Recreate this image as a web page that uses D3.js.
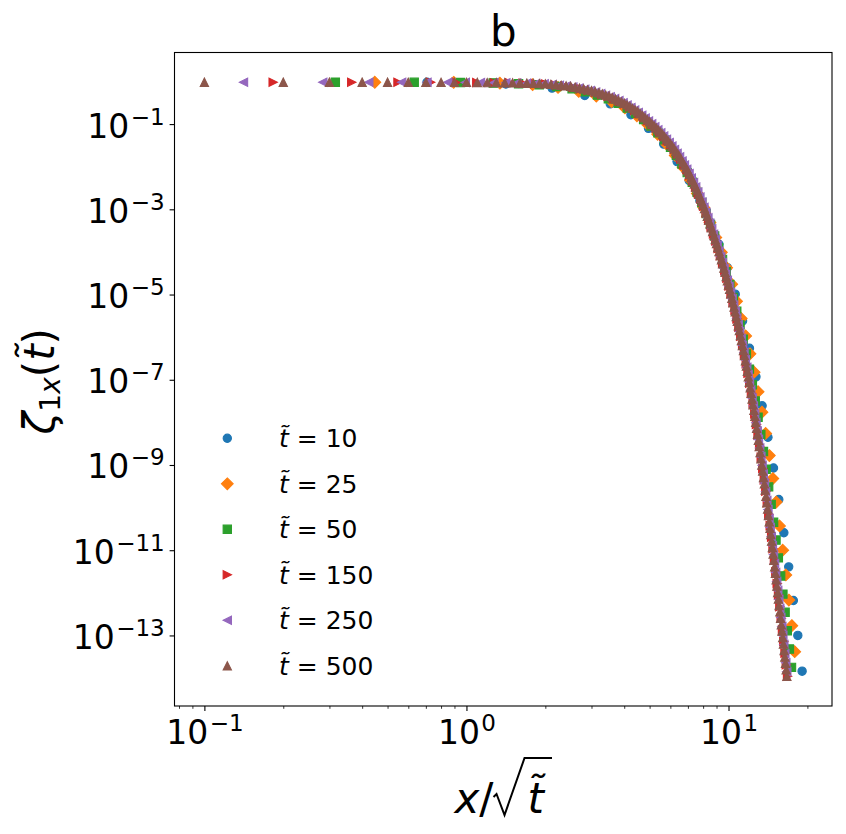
<!DOCTYPE html>
<html>
<head>
<meta charset="utf-8">
<script src="https://cdn.jsdelivr.net/npm/d3@7"></script>
<style>
  body { margin: 0; background: #fff; }
  svg { display: block; }
  text { font-family: "DejaVu Sans", sans-serif; fill: #000; }
</style>
</head>
<body>
<script>
// series labels (t tilde) and colours
var tildeT = [10, 25, 50, 150, 250, 500];
var colors = ["#1f77b4", "#ff7f0e", "#2ca02c", "#d62728", "#9467bd", "#8c564b"];

// x / sqrt(t) and zeta values, one pair of arrays per series
var u10 = [0.707,1.414,2.121,2.828,3.536,4.243,4.950,5.657,6.364,7.071,7.778,8.485,9.192,9.899,
  10.607,11.314,12.021,12.728,13.435,14.142,14.849,15.556,16.263,16.971,17.678,18.385,19.092];
var z10 = [0.955,0.871,0.700,0.468,0.299,0.166,0.0794,0.0339,0.0132,0.00479,0.00162,5.13e-4,1.51e-4,4.27e-5,
  1.02e-5,2.40e-6,5.50e-7,1.17e-7,2.45e-8,4.47e-9,8.51e-10,1.55e-10,2.57e-11,4.07e-12,6.61e-13,1.00e-13,1.45e-14];

var u25 = [0.447,0.894,1.342,1.789,2.236,2.683,3.130,3.578,4.025,4.472,
  4.919,5.367,5.814,6.261,6.708,7.155,7.603,8.050,8.497,8.944,
  9.391,9.839,10.286,10.733,11.180,11.628,12.075,12.522,12.969,13.416,
  13.864,14.311,14.758,15.205,15.652,16.100,16.547,16.994,17.441,17.889];
var z25 = [0.959,0.953,0.910,0.841,0.724,0.583,0.454,0.337,0.239,0.157,
  0.0968,0.0577,0.0334,0.0184,0.00977,0.00490,0.00234,0.00110,4.90e-4,2.19e-4,
  9.77e-5,4.27e-5,1.74e-5,6.92e-6,2.75e-6,1.07e-6,4.07e-7,1.51e-7,5.25e-8,1.74e-8,
  5.50e-9,1.66e-9,4.79e-10,1.35e-10,3.72e-11,1.00e-11,2.63e-12,6.76e-13,1.70e-13,4.17e-14];

var u50 = [0.316,0.632,0.949,1.265,1.581,1.897,2.214,2.530,2.846,3.162,
  3.479,3.795,4.111,4.427,4.743,5.060,5.376,5.692,6.008,6.325,
  6.641,6.957,7.273,7.589,7.906,8.222,8.538,8.854,9.171,9.487,
  9.803,10.119,10.436,10.752,11.068,11.384,11.700,12.017,12.333,12.649,
  12.965,13.282,13.598,13.914,14.230,14.546,14.863,15.179,15.495,15.811,
  16.128,16.444,16.760,17.076,17.393];
var z50 = [0.961,0.957,0.944,0.920,0.887,0.836,0.762,0.676,0.570,0.479,
  0.392,0.309,0.238,0.178,0.128,0.0899,0.0627,0.0426,0.0287,0.0184,
  0.0116,0.00726,0.00432,0.00252,0.00144,8.00e-4,4.40e-4,2.37e-4,1.26e-4,6.62e-5,
  3.42e-5,1.73e-5,8.51e-6,4.08e-6,1.94e-6,8.95e-7,4.06e-7,1.78e-7,7.62e-8,3.18e-8,
  1.32e-8,5.24e-9,2.07e-9,7.96e-10,3.06e-10,1.19e-10,4.53e-11,1.73e-11,6.61e-12,2.49e-12,
  9.31e-13,3.50e-13,1.29e-13,4.81e-14,1.78e-14];

var u150 = [0.183,0.365,0.548,0.730,0.913,1.095,1.278,1.461,1.643,1.826,
  2.008,2.191,2.373,2.556,2.739,2.921,3.104,3.286,3.469,3.651,
  3.834,4.017,4.199,4.382,4.564,4.747,4.930,5.112,5.295,5.477,
  5.660,5.842,6.025,6.208,6.390,6.573,6.755,6.938,7.120,7.303,
  7.486,7.668,7.851,8.033,8.216,8.398,8.581,8.764,8.946,9.129,
  9.311,9.494,9.676,9.859,10.042,10.224,10.407,10.589,10.772,10.954,
  11.137,11.320,11.502,11.685,11.867,12.050,12.232,12.415,12.598,12.780,
  12.963,13.145,13.328,13.510,13.693,13.876,14.058,14.241,14.423,14.606,
  14.788,14.971,15.154,15.336,15.519,15.701,15.884,16.066,16.249,16.432,
  16.614,16.797];
var z150 = [0.961,0.960,0.958,0.955,0.952,0.946,0.936,0.928,0.911,0.891,
  0.873,0.827,0.785,0.738,0.676,0.621,0.562,0.505,0.452,0.395,
  0.344,0.299,0.252,0.213,0.178,0.146,0.120,0.0979,0.0796,0.0649,
  0.0518,0.0414,0.0329,0.0255,0.0198,0.0152,0.0114,0.00857,0.00632,0.00460,
  0.00335,0.00238,0.00174,0.00119,8.17e-4,5.64e-4,3.86e-4,2.64e-4,1.80e-4,1.21e-4,
  8.13e-5,5.46e-5,3.62e-5,2.40e-5,1.58e-5,1.03e-5,6.65e-6,4.26e-6,2.69e-6,1.71e-6,
  1.05e-6,6.47e-7,3.98e-7,2.37e-7,1.42e-7,8.34e-8,4.82e-8,2.79e-8,1.58e-8,8.89e-9,
  4.99e-9,2.75e-9,1.51e-9,8.28e-10,4.48e-10,2.42e-10,1.31e-10,7.03e-11,3.78e-11,2.03e-11,
  1.09e-11,5.81e-12,3.10e-12,1.66e-12,8.85e-13,4.73e-13,2.53e-13,1.35e-13,7.21e-14,3.85e-14,
  2.06e-14,1.10e-14];

var u250 = [0.141,0.283,0.424,0.566,0.707,0.849,0.990,1.131,1.273,1.414,
  1.556,1.697,1.838,1.980,2.121,2.263,2.404,2.546,2.687,2.828,
  2.970,3.111,3.253,3.394,3.536,3.677,3.818,3.960,4.101,4.243,
  4.384,4.525,4.667,4.808,4.950,5.091,5.233,5.374,5.515,5.657,
  5.798,5.940,6.081,6.223,6.364,6.505,6.647,6.788,6.930,7.071,
  7.212,7.354,7.495,7.637,7.778,7.920,8.061,8.202,8.344,8.485,
  8.627,8.768,8.910,9.051,9.192,9.334,9.475,9.617,9.758,9.899,
  10.041,10.182,10.324,10.465,10.607,10.748,10.889,11.031,11.172,11.314,
  11.455,11.597,11.738,11.879,12.021,12.162,12.304,12.445,12.586,12.728,
  12.869,13.011,13.152,13.294,13.435,13.576,13.718,13.859,14.001,14.142,
  14.284,14.425,14.566,14.708,14.849,14.991,15.132,15.274,15.415,15.556,
  15.698,15.839,15.981,16.122,16.263,16.405,16.546,16.688];
var z250 = [0.961,0.960,0.960,0.958,0.956,0.953,0.951,0.945,0.939,0.931,
  0.921,0.907,0.892,0.879,0.847,0.814,0.782,0.745,0.698,0.653,
  0.611,0.564,0.518,0.476,0.435,0.395,0.355,0.318,0.279,0.244,
  0.214,0.187,0.161,0.138,0.118,0.1012,0.0861,0.0734,0.0625,0.0525,
  0.0441,0.0370,0.0307,0.0252,0.0207,0.0170,0.0136,0.0109,0.00875,0.00693,
  0.00543,0.00424,0.00332,0.00254,0.00194,0.00148,0.00112,8.41e-4,6.31e-4,4.72e-4,
  3.51e-4,2.61e-4,1.94e-4,1.43e-4,1.05e-4,7.67e-5,5.64e-5,4.09e-5,2.97e-5,2.16e-5,
  1.56e-5,1.11e-5,7.96e-6,5.68e-6,3.98e-6,2.79e-6,1.96e-6,1.36e-6,9.35e-7,6.40e-7,
  4.39e-7,2.94e-7,1.97e-7,1.32e-7,8.75e-8,5.71e-8,3.72e-8,2.42e-8,1.56e-8,9.86e-9,
  6.28e-9,3.99e-9,2.51e-9,1.57e-9,9.82e-10,6.14e-10,3.79e-10,2.36e-10,1.46e-10,9.00e-11,
  5.53e-11,3.42e-11,2.10e-11,1.29e-11,7.96e-12,4.88e-12,3.00e-12,1.84e-12,1.13e-12,6.97e-13,
  4.28e-13,2.63e-13,1.61e-13,9.93e-14,6.08e-14,3.72e-14,2.29e-14,1.41e-14];

var u500 = [0.1,0.2,0.3,0.4,0.5,0.6,0.7,0.8,0.9,
  1.0,1.1,1.2,1.3,1.4,1.5,1.6,1.7,1.8,1.9,
  2.0,2.1,2.2,2.3,2.4,2.5,2.6,2.7,2.8,2.9,
  3.0,3.1,3.2,3.3,3.4,3.5,3.6,3.7,3.8,3.9,
  4.0,4.1,4.2,4.3,4.4,4.5,4.6,4.7,4.8,4.9,
  5.0,5.1,5.2,5.3,5.4,5.5,5.6,5.7,5.8,5.9,
  6.0,6.1,6.2,6.3,6.4,6.5,6.6,6.7,6.8,6.9,
  7.0,7.1,7.2,7.3,7.4,7.5,7.6,7.7,7.8,7.9,
  8.0,8.1,8.2,8.3,8.4,8.5,8.6,8.7,8.8,8.9,
  9.0,9.1,9.2,9.3,9.4,9.5,9.6,9.7,9.8,9.9,
  10.0,10.1,10.2,10.3,10.4,10.5,10.6,10.7,10.8,10.9,
  11.0,11.1,11.2,11.3,11.4,11.5,11.6,11.7,11.8,11.9,
  12.0,12.1,12.2,12.3,12.4,12.5,12.6,12.7,12.8,12.9,
  13.0,13.1,13.2,13.3,13.4,13.5,13.6,13.7,13.8,13.9,
  14.0,14.1,14.2,14.3,14.4,14.5,14.6,14.7,14.8,14.9,
  15.0,15.1,15.2,15.3,15.4,15.5,15.6,15.7,15.8,15.9,
  16.0,16.1,16.2,16.3,16.4,16.5,16.6,16.7];
var z500 = [0.961,0.961,0.960,0.960,0.959,0.958,0.956,0.954,0.953,
  0.951,0.946,0.942,0.938,0.933,0.929,0.919,0.909,0.900,0.890,
  0.881,0.857,0.834,0.811,0.789,0.767,0.733,0.700,0.668,0.638,
  0.610,0.574,0.541,0.509,0.480,0.452,0.419,0.388,0.360,0.333,
  0.309,0.282,0.257,0.234,0.214,0.195,0.175,0.157,0.141,0.126,
  0.1135,0.1014,0.0906,0.0809,0.0723,0.0646,0.0570,0.0505,0.0446,0.0394,
  0.0348,0.0303,0.0264,0.0230,0.0200,0.0174,0.0149,0.0127,0.0109,0.00929,
  0.00794,0.00667,0.00560,0.00470,0.00394,0.00331,0.00274,0.00226,0.00187,0.00154,
  0.00127,0.00104,8.45e-4,6.89e-4,5.61e-4,4.57e-4,3.70e-4,2.99e-4,2.42e-4,1.96e-4,
  1.58e-4,1.27e-4,1.02e-4,8.17e-5,6.55e-5,5.25e-5,4.18e-5,3.33e-5,2.65e-5,2.11e-5,
  1.68e-5,1.32e-5,1.04e-5,8.18e-6,6.44e-6,5.07e-6,3.94e-6,3.05e-6,2.37e-6,1.84e-6,
  1.43e-6,1.09e-6,8.34e-7,6.37e-7,4.86e-7,3.72e-7,2.79e-7,2.09e-7,1.57e-7,1.17e-7,
  8.81e-8,6.49e-8,4.78e-8,3.52e-8,2.59e-8,1.91e-8,1.38e-8,1.00e-8,7.24e-9,5.25e-9,
  3.80e-9,2.72e-9,1.95e-9,1.40e-9,1.00e-9,7.16e-10,5.09e-10,3.62e-10,2.58e-10,1.83e-10,
  1.30e-10,9.23e-11,6.53e-11,4.62e-11,3.27e-11,2.32e-11,1.64e-11,1.16e-11,8.17e-12,5.77e-12,
  4.07e-12,2.88e-12,2.03e-12,1.44e-12,1.01e-12,7.16e-13,5.06e-13,3.57e-13,2.52e-13,1.78e-13,
  1.26e-13,8.89e-14,6.28e-14,4.44e-14,3.13e-14,2.21e-14,1.56e-14,1.10e-14];

// ticks
var xMajor = [0.1, 1, 10];
var xExp = ["\u22121", "0", "1"];
var xMinor = [0.08,0.09,0.2,0.3,0.4,0.5,0.6,0.7,0.8,0.9,2,3,4,5,6,7,8,9,20];
var yMajor = [1e-1, 1e-3, 1e-5, 1e-7, 1e-9, 1e-11, 1e-13];
var yExp = ["\u22121", "\u22123", "\u22125", "\u22127", "\u22129", "\u221211", "\u221213"];

// marker shapes, size = marker width in px (like matplotlib markersize)
var mCircle = { draw: function (c, s) { var r = s / 2; c.moveTo(r, 0); c.arc(0, 0, r, 0, 2 * Math.PI); } };
var mDiamond = { draw: function (c, s) { var h = s * 0.7071; c.moveTo(0, -h); c.lineTo(h, 0); c.lineTo(0, h); c.lineTo(-h, 0); c.closePath(); } };
var mSquare = { draw: function (c, s) { var h = s / 2; c.rect(-h, -h, s, s); } };
var mRight = { draw: function (c, s) { var h = s / 2; c.moveTo(h, 0); c.lineTo(-h, -h); c.lineTo(-h, h); c.closePath(); } };
var mLeft = { draw: function (c, s) { var h = s / 2; c.moveTo(-h, 0); c.lineTo(h, -h); c.lineTo(h, h); c.closePath(); } };
var mUp = { draw: function (c, s) { var h = s / 2; c.moveTo(0, -h); c.lineTo(-h, h); c.lineTo(h, h); c.closePath(); } };
var shapes = [mCircle, mDiamond, mSquare, mRight, mLeft, mUp];

var series = [
  { t: tildeT[0], u: u10, z: z10 },
  { t: tildeT[1], u: u25, z: z25 },
  { t: tildeT[2], u: u50, z: z50 },
  { t: tildeT[3], u: u150, z: z150 },
  { t: tildeT[4], u: u250, z: z250 },
  { t: tildeT[5], u: u500, z: z500 }
];
series.forEach(function (s, i) { s.color = colors[i]; s.shape = shapes[i]; });

var W = 846, H = 834;
var padL = 174.5, padT = 52.5, padR = 832, padB = 706;
var msize = 8.3;
var tickFont = 33, supFont = 23;

// log axes with 5% padding in log space
function logPad(ext) {
  var a = Math.log10(ext[0]), b = Math.log10(ext[1]), p = (b - a) * 0.05;
  return [Math.pow(10, a - p), Math.pow(10, b + p)];
}
var allU = [].concat(u10, u25, u50, u150, u250, u500);
var allZ = [].concat(z10, z25, z50, z150, z250, z500);
var x = d3.scaleLog().domain(logPad(d3.extent(allU))).range([padL, padR]);
var y = d3.scaleLog().domain(logPad(d3.extent(allZ))).range([padB, padT]);

var svg = d3.select("body").append("svg").attr("width", W).attr("height", H);

svg.append("clipPath").attr("id", "clip")
   .append("rect").attr("x", padL).attr("y", padT).attr("width", padR - padL).attr("height", padB - padT);

// points
var plot = svg.append("g").attr("clip-path", "url(#clip)");
series.forEach(function (s) {
  var g = plot.append("g").attr("fill", s.color).attr("stroke", s.color).attr("stroke-width", 1.1);
  g.selectAll("path")
   .data(d3.zip(s.u, s.z))
   .enter().append("path")
   .attr("transform", function (d) { return "translate(" + x(d[0]) + "," + y(d[1]) + ")"; })
   .attr("d", d3.symbol().type(s.shape).size(msize));
});

// x axis
var gxMinor = svg.append("g").attr("transform", "translate(0," + padB + ")")
  .call(d3.axisBottom(x).tickValues(xMinor).tickSize(2.8).tickFormat(""));
gxMinor.select(".domain").remove();
gxMinor.selectAll(".tick line").attr("stroke-width", 0.8);

var gx = svg.append("g").attr("transform", "translate(0," + padB + ")")
  .call(d3.axisBottom(x).tickValues(xMajor).tickSize(4.9).tickFormat(""));
gx.select(".domain").remove();
gx.selectAll(".tick line").attr("stroke-width", 1.1);
gx.selectAll(".tick text").each(function (d, i) {
  var t = d3.select(this).text(null).attr("y", 37.5).attr("dy", null)
    .attr("font-size", tickFont).attr("text-anchor", "middle");
  t.append("tspan").text("10");
  t.append("tspan").attr("dx", 1.5).attr("dy", -13).attr("font-size", supFont).text(xExp[i]);
});

// y axis
var gy = svg.append("g").attr("transform", "translate(" + padL + ",0)")
  .call(d3.axisLeft(y).tickValues(yMajor).tickSize(4.9).tickFormat(""));
gy.select(".domain").remove();
gy.selectAll(".tick line").attr("stroke-width", 1.1);
gy.selectAll(".tick text").each(function (d, i) {
  var t = d3.select(this).text(null).attr("x", -9.8).attr("y", 13).attr("dy", null)
    .attr("font-size", tickFont).attr("text-anchor", "end");
  t.append("tspan").text("10");
  t.append("tspan").attr("dx", 1.5).attr("dy", -13).attr("font-size", supFont).text(yExp[i]);
});

// frame
svg.append("rect").attr("x", padL).attr("y", padT)
   .attr("width", padR - padL).attr("height", padB - padT)
   .attr("fill", "none").attr("stroke", "#000").attr("stroke-width", 1.1);

// title
svg.append("text").attr("x", (padL + padR) / 2).attr("y", 46)
   .attr("text-anchor", "middle").attr("font-size", 42).text("b");

// y label
var yl = svg.append("text").attr("transform", "translate(54," + ((padT + padB) / 2 + 2) + ") rotate(-90)")
  .attr("text-anchor", "middle").attr("font-size", 42);
yl.append("tspan").attr("font-style", "italic").text("\u03b6");
yl.append("tspan").attr("font-size", 28).attr("dy", 6).text("1");
yl.append("tspan").attr("font-size", 28).attr("font-style", "italic").text("x");
yl.append("tspan").attr("dy", -6).text("(");
yl.append("tspan").attr("font-style", "italic").text("t\u0303");
yl.append("tspan").text(")");

// x label: x / sqrt(t~)
var xlY = 813;
var xl = svg.append("g");
var xa = xl.append("text").attr("y", xlY).attr("font-size", 42);
xa.append("tspan").attr("font-style", "italic").text("x");
xa.append("tspan").text("/");
var wA = xa.node().getComputedTextLength();
var xt = xl.append("text").attr("y", xlY).attr("font-size", 42).attr("font-style", "italic").text("t\u0303");
var wT = xt.node().getComputedTextLength();
var radW = 34;
var total = wA + radW + wT + 8;
var x0 = (padL + padR) / 2 - total / 2;
xa.attr("x", x0);
var rx = x0 + wA;
xt.attr("x", rx + radW);
xl.append("path")
  .attr("d", "M" + rx + "," + (xlY - 16) + "l3,-3l8,21l20,-57H" + (rx + radW + wT + 8))
  .attr("fill", "none").attr("stroke", "#000").attr("stroke-width", 2);

// legend
var legend = svg.append("g");
series.forEach(function (s, i) {
  var cy = 438.3 + i * 45.5;
  legend.append("path")
    .attr("transform", "translate(227.3," + cy + ")")
    .attr("d", d3.symbol().type(s.shape).size(msize)())
    .attr("fill", s.color).attr("stroke", s.color).attr("stroke-width", 1.1);
  var lt = legend.append("text").attr("x", 279).attr("y", cy + 9).attr("font-size", 25);
  lt.append("tspan").attr("font-style", "italic").text("t\u0303");
  lt.append("tspan").text(" = " + s.t);
});
</script>
</body>
</html>
